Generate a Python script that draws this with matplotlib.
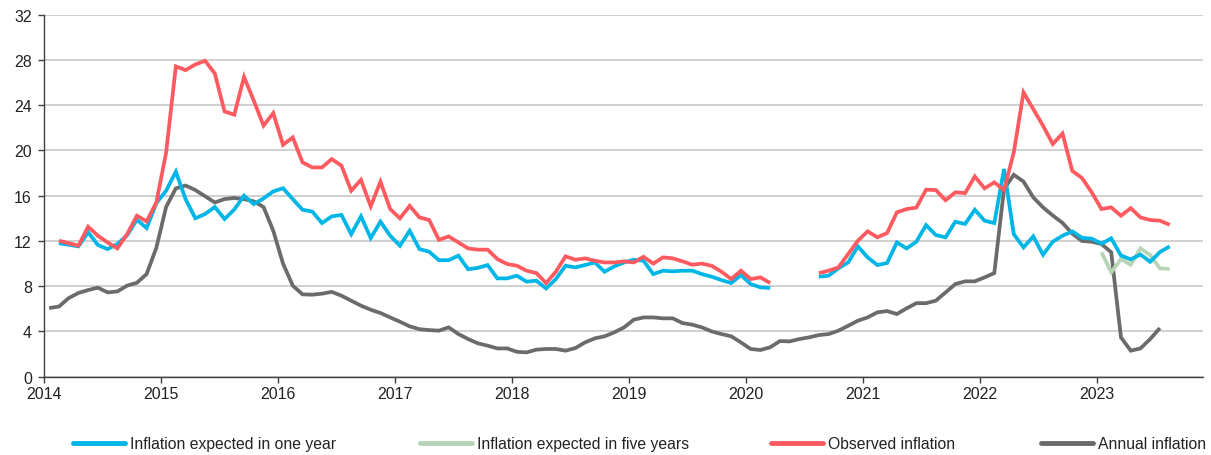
import numpy as np
import matplotlib
matplotlib.use("Agg")
import matplotlib.pyplot as plt
from matplotlib.lines import Line2D

nan = np.nan
start_year = 2014
years = [2014, 2015, 2016, 2017, 2018, 2019, 2020, 2021, 2022, 2023]
y_ticks = [0, 4, 8, 12, 16, 20, 24, 28, 32]

# Annual inflation, monthly from Jan 2014
annual = [6.07, 6.2, 6.95, 7.4, 7.66, 7.87, 7.45, 7.54, 8.05, 8.3, 9.07, 11.4,
          15.0, 16.65, 16.9, 16.5, 15.95, 15.4, 15.7, 15.8, 15.7, 15.5, 15.0, 12.9,
          10.0, 8.05, 7.28, 7.25, 7.34, 7.5, 7.16, 6.72, 6.28, 5.92, 5.63, 5.24,
          4.86, 4.45, 4.2, 4.12, 4.07, 4.36, 3.77, 3.33, 2.95, 2.74, 2.5, 2.5,
          2.2, 2.15, 2.39, 2.45, 2.45, 2.3, 2.53, 3.03, 3.39, 3.57, 3.92, 4.36,
          5.04, 5.24, 5.24, 5.16, 5.16, 4.74, 4.6, 4.36, 4.0, 3.77, 3.57, 3.03,
          2.45, 2.36, 2.6, 3.15, 3.12, 3.33, 3.48, 3.68, 3.77, 4.07, 4.5, 4.95,
          5.24, 5.69, 5.8, 5.54, 6.04, 6.5, 6.5, 6.72, 7.45, 8.19, 8.43, 8.43,
          8.78, 9.16, 16.6, 17.85, 17.25, 15.85, 14.97, 14.25, 13.6, 12.65, 12.0, 11.93,
          11.73, 11.0, 3.48, 2.3, 2.5, 3.33, 4.3, nan]

observed = [nan, 12.02, 11.8, 11.58, 13.26, 12.46, 11.87, 11.34, 12.6, 14.23, 13.73, 15.4,
            19.8, 27.43, 27.1, 27.6, 27.93, 26.8, 23.45, 23.16, 26.5, 24.4, 22.2, 23.3,
            20.5, 21.15, 18.95, 18.5, 18.5, 19.24, 18.65, 16.44, 17.4, 15.06, 17.24, 14.82,
            14.0, 15.1, 14.08, 13.85, 12.1, 12.4, 11.87, 11.34, 11.23, 11.23, 10.4, 9.96,
            9.81, 9.37, 9.16, 8.28, 9.28, 10.64, 10.34, 10.46, 10.25, 10.1, 10.1, 10.2,
            10.1, 10.6, 10.0, 10.55, 10.46, 10.2, 9.9, 10.0, 9.8, 9.28, 8.63, 9.37,
            8.63, 8.78, 8.28, nan, nan, nan, nan, 9.16, 9.37, 9.66, 10.84, 12.02,
            12.85, 12.32, 12.7, 14.53, 14.82, 14.95, 16.53, 16.5, 15.6, 16.3, 16.23, 17.7,
            16.65, 17.18, 16.5, 19.83, 25.13, 23.66, 22.19, 20.57, 21.5, 18.2, 17.56, 16.3,
            14.82, 14.97, 14.23, 14.9, 14.08, 13.85, 13.79, 13.43]

expected_1y = [nan, 11.8, 11.67, 11.52, 12.76, 11.64, 11.28, 11.73, 12.5, 13.88, 13.14, 15.35,
               16.44, 18.12, 15.7, 14.0, 14.38, 15.0, 13.94, 14.78, 16.0, 15.26, 15.76, 16.38,
               16.66, 15.7, 14.76, 14.6, 13.58, 14.17, 14.3, 12.6, 14.17, 12.26, 13.7, 12.46,
               11.58, 12.9, 11.28, 11.05, 10.3, 10.3, 10.7, 9.5, 9.62, 9.87, 8.69, 8.69,
               8.93, 8.4, 8.49, 7.8, 8.63, 9.81, 9.66, 9.87, 10.1, 9.28, 9.75, 10.1,
               10.34, 10.25, 9.07, 9.37, 9.31, 9.37, 9.37, 9.07, 8.84, 8.54, 8.28, 8.99,
               8.19, 7.9, 7.84, nan, nan, nan, nan, 8.84, 8.93, 9.58, 10.1, 11.52,
               10.55, 9.87, 10.05, 11.87, 11.34, 11.93, 13.4, 12.52, 12.32, 13.7, 13.5, 14.76,
               13.79, 13.58, 18.36, 12.6, 11.43, 12.4, 10.78, 11.93, 12.46, 12.85, 12.28, 12.2,
               11.76, 12.23, 10.72, 10.37, 10.8, 10.16, 11.02, 11.52]

expected_5y = [nan] * 108 + [11.0, 9.22, 10.4, 9.9, 11.34, 10.75, 9.58, 9.52]

labels = ["Inflation expected in one year", "Inflation expected in five years",
          "Observed inflation", "Annual inflation"]
colors = ["#00B6E6", "#B5D5B6", "#FF5A5F", "#6B6B6B"]

plt.rcParams['font.family'] = ['Liberation Sans', 'DejaVu Sans']

fig = plt.figure(figsize=(12.11, 4.56), dpi=100)
ax = fig.add_axes([44.3 / 1211, 78.3 / 456, (1203 - 44.3) / 1211, 362 / 456])

n = len(observed)
x = start_year + (np.arange(n) + 0.5) / 12.0

series = [expected_1y, expected_5y, observed, annual]
order = [3, 1, 0, 2]
for i in order:
    ax.plot(x, np.array(series[i], dtype=float), color=colors[i], lw=2.7,
            solid_joinstyle='miter', solid_capstyle='butt', zorder=3 + (i == 2))

ax.set_xlim(2014, 2023.91)
ax.set_ylim(0, 32)
ax.set_yticks(y_ticks)
ax.set_xticks(years)
ax.set_xticklabels([str(y) for y in years])
ax.grid(axis='y', color='#C8C8C8', lw=1.2)
ax.set_axisbelow(True)
for s in ['top', 'right']:
    ax.spines[s].set_visible(False)
for s in ['left', 'bottom']:
    ax.spines[s].set_color('#404040')
    ax.spines[s].set_linewidth(1.0)
ax.tick_params(axis='both', colors='#404040', labelcolor='#222222', labelsize=11.5,
               length=4, width=1.0, direction='out')
ax.tick_params(axis='x', pad=3)
ax.tick_params(axis='y', pad=5)

leg_x = [72, 419, 770, 1040]
for i in range(4):
    h = Line2D([0], [0], color=colors[i], lw=3.5, solid_capstyle='round')
    fig.legend([h], [labels[i]], loc='center left',
               bbox_to_anchor=(leg_x[i] / 1211 - 0.0105, 1 - 445 / 456),
               frameon=False, fontsize=11.3, handlelength=3.3, handletextpad=0.3,
               labelcolor='#222222')

fig.savefig("out.png", dpi=100)
